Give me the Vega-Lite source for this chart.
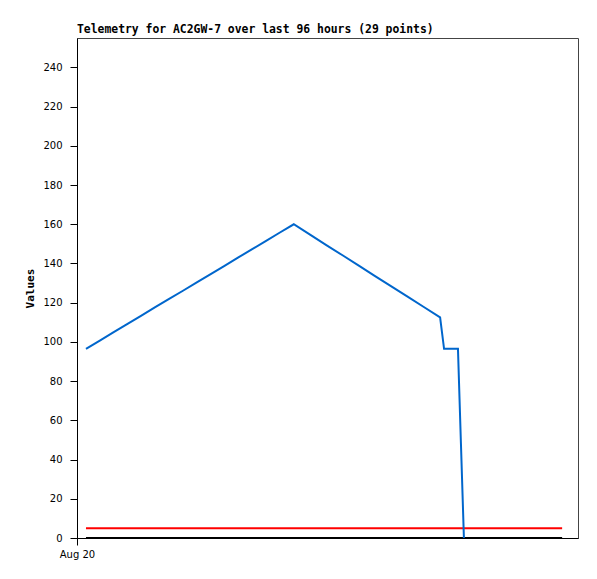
{
  "$schema": "https://vega.github.io/schema/vega-lite/v6.json",
  "width": 501,
  "height": 500,
  "autosize": "none",
  "padding": {"left": 77, "top": 38, "right": 19, "bottom": 41},
  "background": "white",
  "title": {
    "text": "Telemetry for AC2GW-7 over last 96 hours (29 points)",
    "anchor": "start",
    "frame": "group",
    "font": "DejaVu Sans Mono",
    "fontSize": 11.4,
    "fontWeight": "bold",
    "color": "black",
    "offset": 3
  },
  "config": {
    "view": {"stroke": "#444444", "strokeWidth": 1},
    "axis": {
      "domainColor": "black",
      "domainWidth": 1,
      "tickColor": "black",
      "tickSize": 7,
      "labelFont": "DejaVu Sans",
      "labelFontSize": 10,
      "labelColor": "black",
      "grid": false
    }
  },
  "datasets": {
    "tele": [
      {"h": 1.81, "v": 96.5}, {"h": 4.60, "v": 100.7}, {"h": 7.40, "v": 105.0}, {"h": 10.19, "v": 109.2},
      {"h": 12.98, "v": 113.4}, {"h": 15.77, "v": 117.7}, {"h": 18.57, "v": 121.9}, {"h": 21.36, "v": 126.1},
      {"h": 24.15, "v": 130.4}, {"h": 26.95, "v": 134.6}, {"h": 29.74, "v": 138.8}, {"h": 32.53, "v": 143.1},
      {"h": 35.32, "v": 147.3}, {"h": 38.12, "v": 151.5}, {"h": 40.91, "v": 155.8}, {"h": 43.70, "v": 160.0},
      {"h": 46.98, "v": 154.7}, {"h": 50.26, "v": 149.4}, {"h": 53.53, "v": 144.2}, {"h": 56.81, "v": 138.9},
      {"h": 60.09, "v": 133.6}, {"h": 63.37, "v": 128.3}, {"h": 66.64, "v": 123.1}, {"h": 69.92, "v": 117.8},
      {"h": 73.20, "v": 112.5}, {"h": 74.00, "v": 96.5}, {"h": 76.80, "v": 96.5}, {"h": 77.40, "v": 48.2},
      {"h": 78.00, "v": 0}
    ],
    "lims": [
      {"h": 1.81, "v": 5, "s": "max"}, {"h": 97.8, "v": 5, "s": "max"},
      {"h": 1.81, "v": 0, "s": "min"}, {"h": 97.8, "v": 0, "s": "min"}
    ]
  },
  "layer": [
    {
      "data": {"name": "lims"},
      "mark": {"type": "line", "strokeWidth": 2},
      "encoding": {
        "x": {"field": "h", "type": "quantitative",
              "scale": {"domain": [0, 101], "nice": false, "zero": false},
              "axis": {"values": [0], "labelExpr": "'Aug 20'", "title": null, "labelPadding": 4,
                       "labelFlush": false, "labelAlign": "center"}},
        "y": {"field": "v", "type": "quantitative",
              "scale": {"domain": [0, 255], "nice": false},
              "axis": {"values": [0,20,40,60,80,100,120,140,160,180,200,220,240], "title": "Values",
                       "titleFont": "DejaVu Sans Mono", "titleFontSize": 11, "titleFontWeight": "bold",
                       "titleColor": "black", "labelPadding": 8, "titlePadding": 7}},
        "color": {"field": "s", "type": "nominal",
                  "scale": {"domain": ["max", "min"], "range": ["#ff0000", "#000000"]}, "legend": null},
        "detail": {"field": "s"}
      }
    },
    {
      "data": {"name": "tele"},
      "mark": {"type": "line", "strokeWidth": 2, "color": "#0066cc"},
      "encoding": {
        "x": {"field": "h", "type": "quantitative"},
        "y": {"field": "v", "type": "quantitative"}
      }
    }
  ]
}
